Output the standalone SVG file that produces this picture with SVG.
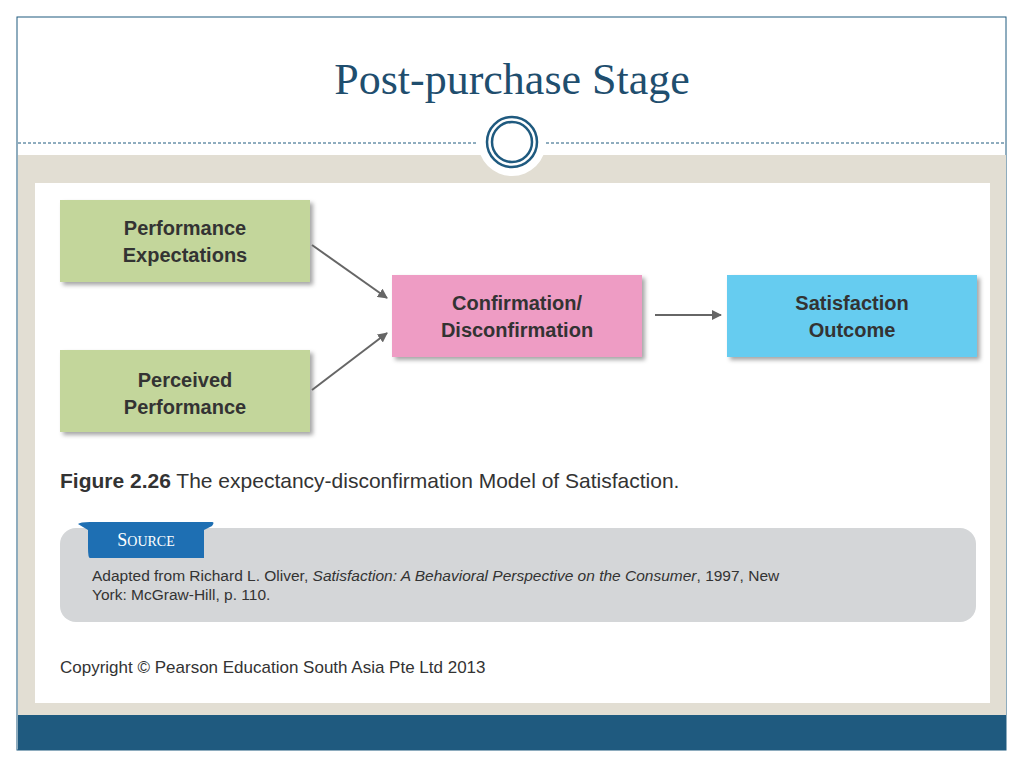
<svg xmlns="http://www.w3.org/2000/svg" width="1024" height="768" viewBox="0 0 1024 768">
<defs>
<style>
.b{font-family:"Liberation Sans",Arial,sans-serif;font-weight:bold;font-size:20px;fill:#333;text-anchor:middle}
.t{font-family:"Liberation Sans",Arial,sans-serif;fill:#333}
</style>
<marker id="a" markerWidth="10" markerHeight="10" refX="9" refY="5" orient="auto" markerUnits="userSpaceOnUse"><path d="M0,0 L10,5 L0,10 z" fill="#666"/></marker>
<filter id="s"><feDropShadow dx="3" dy="3" stdDeviation="2" flood-color="#000" flood-opacity="0.35"/></filter>
</defs>
<rect width="1024" height="768" fill="#fff"/>
<rect x="17" y="17" width="989" height="733" fill="#fff" stroke="#1f5a7f" stroke-width="1"/>
<rect x="18" y="155" width="988" height="560" fill="#e2ded3"/>
<rect x="18" y="715" width="988" height="35" fill="#1f5a7f"/>
<line x1="18" y1="143" x2="478" y2="143" stroke="#1f5a7f" stroke-dasharray="3,2"/>
<line x1="546" y1="143" x2="1006" y2="143" stroke="#1f5a7f" stroke-dasharray="3,2"/>
<circle cx="512" cy="142" r="34" fill="#fff"/>
<circle cx="512" cy="142" r="25" fill="none" stroke="#1f5a7f" stroke-width="2.5"/>
<circle cx="512" cy="142" r="20" fill="none" stroke="#1f5a7f" stroke-width="2.5"/>
<text x="512" y="94" font-family="Liberation Serif,serif" font-size="44" fill="#1f4e6e" text-anchor="middle">Post-purchase Stage</text>
<rect x="35" y="183" width="955" height="520" fill="#fff"/>
<g id="pe"><rect x="60" y="200" width="250" height="82" fill="#c3d69b" filter="url(#s)"/><text class="b" x="185" y="235">Performance</text><text class="b" x="185" y="262">Expectations</text></g>
<g id="pp"><rect x="60" y="350" width="250" height="82" fill="#c3d69b" filter="url(#s)"/><text class="b" x="185" y="387">Perceived</text><text class="b" x="185" y="414">Performance</text></g>
<g id="cd"><rect x="392" y="275" width="250" height="82" fill="#ee9cc4" filter="url(#s)"/><text class="b" x="517" y="310">Confirmation/</text><text class="b" x="517" y="337">Disconfirmation</text></g>
<g id="so"><rect x="727" y="275" width="250" height="82" fill="#66ccf0" filter="url(#s)"/><text class="b" x="852" y="310">Satisfaction</text><text class="b" x="852" y="337">Outcome</text></g>
<g id="c" stroke="#666" stroke-width="2" fill="none">
<line x1="312" y1="245" x2="387" y2="298" marker-end="url(#a)"/>
<line x1="312" y1="390" x2="387" y2="333" marker-end="url(#a)"/>
<line x1="655" y1="315" x2="721" y2="315" marker-end="url(#a)"/>
</g>
<text class="t" x="60" y="488" font-size="21"><tspan font-weight="bold">Figure 2.26</tspan>  The expectancy-disconfirmation Model of Satisfaction.</text>
<rect x="60" y="528" width="916" height="94" rx="16" fill="#d4d6d8"/>
<path d="M78,524 Q80,522 90,522 L212,522 Q215,522 212,526 L204,530 L204,558 H90 Q88,558 88,548 V530 Z" fill="#1e6fb3"/>
<text x="146" y="546" font-family="Liberation Serif,serif" font-size="18" fill="#fff" text-anchor="middle">S<tspan font-size="14">OURCE</tspan></text>
<text class="t" x="92" y="581" font-size="15.5">Adapted from Richard L. Oliver, <tspan font-style="italic">Satisfaction: A Behavioral Perspective on the Consumer</tspan>, 1997, New</text>
<text class="t" x="92" y="600" font-size="15.5">York: McGraw-Hill, p. 110.</text>
<text class="t" x="60" y="673" font-size="17">Copyright © Pearson Education South Asia Pte Ltd 2013</text>
</svg>
